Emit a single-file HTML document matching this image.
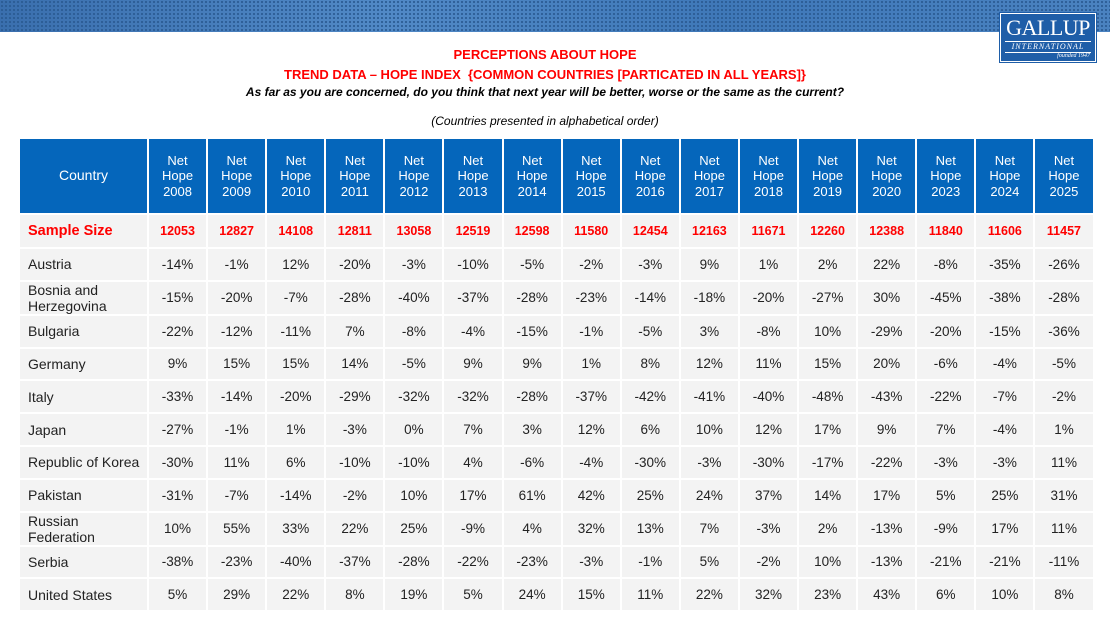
<!DOCTYPE html>
<html><head><meta charset="utf-8"><style>
*{margin:0;padding:0;box-sizing:border-box}
body{width:1110px;height:624px;background:#fff;position:relative;overflow:hidden;font-family:"Liberation Sans",sans-serif}
.banner{position:absolute;left:0;top:0;width:1110px;height:32px;
background-image:radial-gradient(circle,#2a5a92 0.8px,transparent 1.2px),linear-gradient(90deg,#3a6fae,#5189c6 35%,#3f78b8 65%,#4a82c0);background-size:4px 4px,100% 100%}
.logo{position:absolute;left:1000px;top:13px;width:96px;height:49px;background:#1f5ea8;border:1px solid #fff;box-shadow:0 0 0 1px #1f5ea8;color:#fff;text-align:center;font-family:"Liberation Serif",serif}
.logo .g{font-size:22px;line-height:22px;margin-top:3px;letter-spacing:-0.5px}
.logo .i{font-size:8px;border-top:1px solid #fff;border-bottom:1px solid #fff;margin:2px 4px 0;letter-spacing:1px;font-style:italic;line-height:10px}
.logo .f{font-size:6px;text-align:right;padding-right:5px;font-style:italic}
.t{position:absolute;left:0;width:1090px;text-align:center;font-family:"Liberation Sans Narrow","Liberation Sans",sans-serif}
.red{color:#ff0000;font-weight:bold;font-size:13px}
.it{font-style:italic;font-size:12px;color:#000;font-weight:bold}
table{position:absolute;left:18px;top:137px;border-collapse:collapse;table-layout:fixed}
td,th{border:2px solid #fff;text-align:center;font-size:13.5px;color:#222}
th{background:#0566bb;color:#fff;font-weight:normal;font-size:13px;line-height:15.5px;height:76px}
td{background:#f3f3f3;height:32.8px}
td.c{text-align:left;padding-left:8px;font-size:14px;line-height:16px}
tr.s td{color:#ff0000;font-weight:bold;font-size:12.5px;height:34px}
tr.s td.c{font-size:14.5px}
</style></head><body>
<div class="banner"></div>
<div class="logo"><div class="g">GALLUP</div><div class="i">INTERNATIONAL</div><div class="f">founded 1947</div></div>
<div class="t red" style="top:47px">PERCEPTIONS ABOUT HOPE</div>
<div class="t red" style="top:67px">TREND DATA – HOPE INDEX &nbsp;{COMMON COUNTRIES [PARTICATED IN ALL YEARS]}</div>
<div class="t it" style="top:85px">As far as you are concerned, do you think that next year will be better, worse or the same as the current?</div>
<div class="t it" style="top:114px;font-weight:normal">(Countries presented in alphabetical order)</div>
<table>
<colgroup><col style="width:129px"><col span="16" style="width:59.1px"></colgroup>
<tr><th style="font-size:14px">Country</th><th>Net<br>Hope<br>2008</th><th>Net<br>Hope<br>2009</th><th>Net<br>Hope<br>2010</th><th>Net<br>Hope<br>2011</th><th>Net<br>Hope<br>2012</th><th>Net<br>Hope<br>2013</th><th>Net<br>Hope<br>2014</th><th>Net<br>Hope<br>2015</th><th>Net<br>Hope<br>2016</th><th>Net<br>Hope<br>2017</th><th>Net<br>Hope<br>2018</th><th>Net<br>Hope<br>2019</th><th>Net<br>Hope<br>2020</th><th>Net<br>Hope<br>2023</th><th>Net<br>Hope<br>2024</th><th>Net<br>Hope<br>2025</th></tr>
<tr class="s"><td class="c">Sample Size</td><td>12053</td><td>12827</td><td>14108</td><td>12811</td><td>13058</td><td>12519</td><td>12598</td><td>11580</td><td>12454</td><td>12163</td><td>11671</td><td>12260</td><td>12388</td><td>11840</td><td>11606</td><td>11457</td></tr>
<tr><td class="c">Austria</td><td>-14%</td><td>-1%</td><td>12%</td><td>-20%</td><td>-3%</td><td>-10%</td><td>-5%</td><td>-2%</td><td>-3%</td><td>9%</td><td>1%</td><td>2%</td><td>22%</td><td>-8%</td><td>-35%</td><td>-26%</td></tr>
<tr><td class="c">Bosnia and Herzegovina</td><td>-15%</td><td>-20%</td><td>-7%</td><td>-28%</td><td>-40%</td><td>-37%</td><td>-28%</td><td>-23%</td><td>-14%</td><td>-18%</td><td>-20%</td><td>-27%</td><td>30%</td><td>-45%</td><td>-38%</td><td>-28%</td></tr>
<tr><td class="c">Bulgaria</td><td>-22%</td><td>-12%</td><td>-11%</td><td>7%</td><td>-8%</td><td>-4%</td><td>-15%</td><td>-1%</td><td>-5%</td><td>3%</td><td>-8%</td><td>10%</td><td>-29%</td><td>-20%</td><td>-15%</td><td>-36%</td></tr>
<tr><td class="c">Germany</td><td>9%</td><td>15%</td><td>15%</td><td>14%</td><td>-5%</td><td>9%</td><td>9%</td><td>1%</td><td>8%</td><td>12%</td><td>11%</td><td>15%</td><td>20%</td><td>-6%</td><td>-4%</td><td>-5%</td></tr>
<tr><td class="c">Italy</td><td>-33%</td><td>-14%</td><td>-20%</td><td>-29%</td><td>-32%</td><td>-32%</td><td>-28%</td><td>-37%</td><td>-42%</td><td>-41%</td><td>-40%</td><td>-48%</td><td>-43%</td><td>-22%</td><td>-7%</td><td>-2%</td></tr>
<tr><td class="c">Japan</td><td>-27%</td><td>-1%</td><td>1%</td><td>-3%</td><td>0%</td><td>7%</td><td>3%</td><td>12%</td><td>6%</td><td>10%</td><td>12%</td><td>17%</td><td>9%</td><td>7%</td><td>-4%</td><td>1%</td></tr>
<tr><td class="c">Republic of Korea</td><td>-30%</td><td>11%</td><td>6%</td><td>-10%</td><td>-10%</td><td>4%</td><td>-6%</td><td>-4%</td><td>-30%</td><td>-3%</td><td>-30%</td><td>-17%</td><td>-22%</td><td>-3%</td><td>-3%</td><td>11%</td></tr>
<tr><td class="c">Pakistan</td><td>-31%</td><td>-7%</td><td>-14%</td><td>-2%</td><td>10%</td><td>17%</td><td>61%</td><td>42%</td><td>25%</td><td>24%</td><td>37%</td><td>14%</td><td>17%</td><td>5%</td><td>25%</td><td>31%</td></tr>
<tr><td class="c">Russian Federation</td><td>10%</td><td>55%</td><td>33%</td><td>22%</td><td>25%</td><td>-9%</td><td>4%</td><td>32%</td><td>13%</td><td>7%</td><td>-3%</td><td>2%</td><td>-13%</td><td>-9%</td><td>17%</td><td>11%</td></tr>
<tr><td class="c">Serbia</td><td>-38%</td><td>-23%</td><td>-40%</td><td>-37%</td><td>-28%</td><td>-22%</td><td>-23%</td><td>-3%</td><td>-1%</td><td>5%</td><td>-2%</td><td>10%</td><td>-13%</td><td>-21%</td><td>-21%</td><td>-11%</td></tr>
<tr><td class="c">United States</td><td>5%</td><td>29%</td><td>22%</td><td>8%</td><td>19%</td><td>5%</td><td>24%</td><td>15%</td><td>11%</td><td>22%</td><td>32%</td><td>23%</td><td>43%</td><td>6%</td><td>10%</td><td>8%</td></tr>
</table>
</body></html>
